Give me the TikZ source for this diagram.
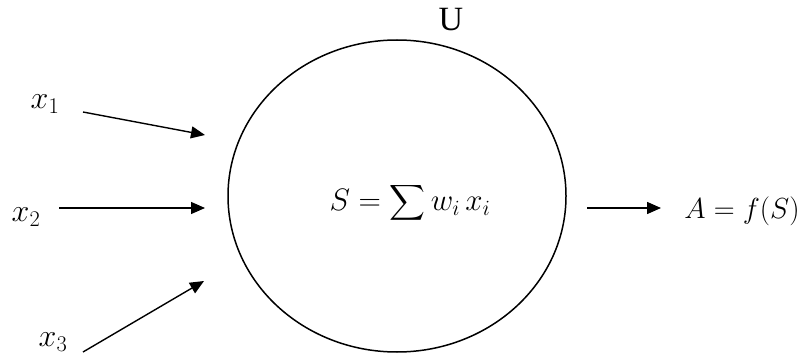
\RequirePackage{fix-cm}
\documentclass[tikz,border=0pt]{standalone}
\usepackage{amsmath}
\usepackage{fontspec}
\setmainfont{Liberation Serif}
\usepackage{tikz}
\usetikzlibrary{shapes.geometric, arrows.meta, positioning}

\tikzset{
    arr/.style={line width=1.4pt, -{Triangle[length=14pt,width=12pt]}},
    lbl/.style={font=\fontsize{32}{36}\selectfont, inner sep=2pt}
}

\begin{document}
\begin{tikzpicture}[x=1pt, y=-1pt]
    \useasboundingbox (0,0) rectangle (805,358);

    % Unit
    \node[draw, ellipse, line width=1.5pt, minimum width=338pt, minimum height=312pt] (unit) at (397,196) {};
    \node[lbl, font=\fontsize{31}{36}\selectfont] (sum) at (410,203) {$\displaystyle S = \sum w_i\, x_i$};
    \node[lbl, font=\fontsize{34}{38}\selectfont] (U) at (451,20) {U};

    % Inputs
    \node[lbl] (x1) at (45,104) {$x_1$};
    \node[lbl] (x2) at (26,217) {$x_2$};
    \node[lbl] (x3) at (53,342) {$x_3$};
    \coordinate (s1) at (83,112);
    \coordinate (t1) at (205,135);
    \coordinate (s2) at (59,208);
    \coordinate (t2) at (205,208);
    \coordinate (s3) at (83,352);
    \coordinate (t3) at (204,281);
    \draw[arr] (s1) -- (t1);
    \draw[arr] (s2) -- (t2);
    \draw[arr] (s3) -- (t3);

    % Output
    \node[lbl, font=\fontsize{29}{33}\selectfont] (A) at (742,211) {$A = f(S)$};
    \coordinate (o1) at (587,208);
    \coordinate (o2) at (661,208);
    \draw[arr] (o1) -- (o2);
\end{tikzpicture}
\end{document}
